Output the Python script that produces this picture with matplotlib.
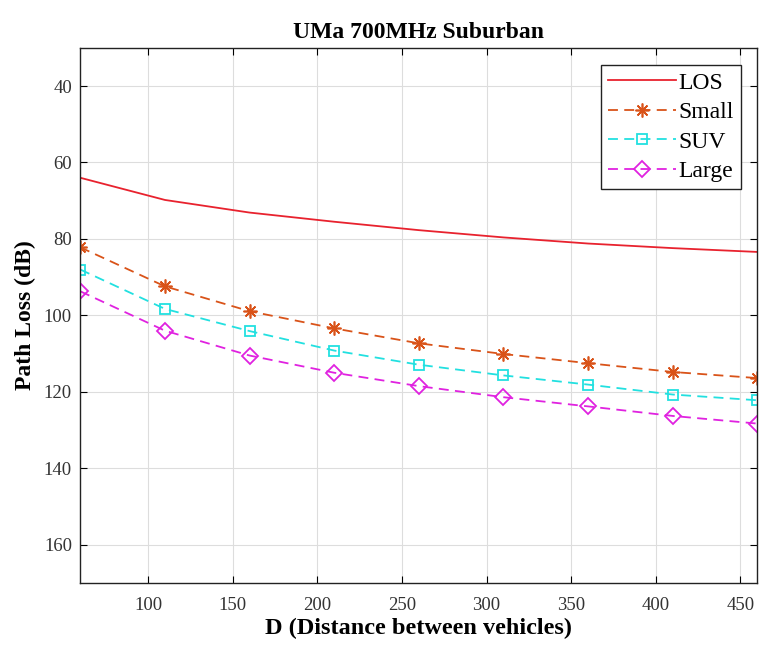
import matplotlib.pyplot as plt

# distance between vehicles (m)
distance = [60, 110, 160, 210, 260, 310, 360, 410, 460]

# path loss values (dB)
los = [64.0, 69.8, 73.1, 75.5, 77.7, 79.6, 81.2, 82.4, 83.4]
small = [82.2, 92.4, 98.9, 103.4, 107.3, 110.1, 112.5, 114.8, 116.4]
suv = [88.0, 98.3, 104.1, 109.2, 112.9, 115.7, 118.1, 120.7, 122.2]
large = [93.7, 104.0, 110.5, 115.0, 118.5, 121.4, 123.8, 126.3, 128.3]

plt.rcParams['font.family'] = ['Liberation Serif', 'DejaVu Serif']

fig = plt.figure(figsize=(7.65, 6.64), dpi=100)
ax = fig.add_axes([0.105, 0.122, 0.885, 0.806])

dash = (0, (5.5, 3.5))
ax.plot(distance, los, color='#e8222e', lw=1.3, label='LOS')
ax.plot(distance, small, color='#d95319', lw=1.3, ls=dash,
        marker=(8, 2, 0), ms=10, mew=1.2, label='Small')
ax.plot(distance, suv, color='#22e0e0', lw=1.3, ls=dash,
        marker='s', ms=7, mfc='none', mew=1.3, label='SUV')
ax.plot(distance, large, color='#e022e0', lw=1.3, ls=dash,
        marker='D', ms=8, mfc='none', mew=1.3, label='Large')

ax.set_xlim(60, 460)
ax.set_ylim(170, 30)
ax.set_xticks(range(100, 451, 50))
ax.set_yticks(range(40, 161, 20))
ax.grid(True, color='#dddddd', lw=0.8)
ax.tick_params(direction='in', top=True, right=True, labelsize=13.5,
               labelcolor='#333333', length=5, width=0.8)
ax.tick_params(axis='x', pad=10)
ax.tick_params(axis='y', pad=6)
for s in ax.spines.values():
    s.set_linewidth(1.0)
    s.set_color('#222222')

ax.set_title('UMa 700MHz Suburban', fontsize=17, fontweight='bold', pad=7)
ax.set_xlabel('D (Distance between vehicles)', fontsize=17.5, fontweight='bold',
              labelpad=3)
ax.set_ylabel('Path Loss (dB)', fontsize=17, fontweight='bold', labelpad=6)

leg = ax.legend(loc='upper right', bbox_to_anchor=(0.976, 0.968), fontsize=17,
                fancybox=False, framealpha=1, edgecolor='#222222',
                handlelength=2.9, handletextpad=0.1, borderpad=0.3,
                labelspacing=0.34, borderaxespad=0)
leg.get_frame().set_linewidth(1.0)

fig.savefig('out.png', dpi=100)
